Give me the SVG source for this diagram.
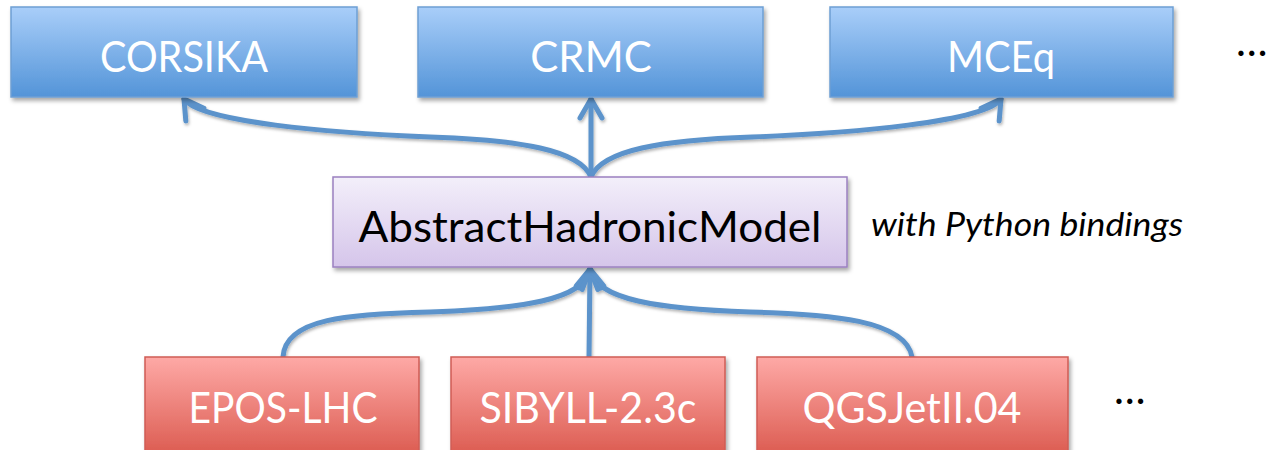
<svg xmlns="http://www.w3.org/2000/svg" width="1268" height="450" viewBox="0 0 1268 450">
  <defs>
    <linearGradient id="gBlue" x1="0" y1="0" x2="0" y2="1">
      <stop offset="0" stop-color="#a9cef9"/>
      <stop offset="1" stop-color="#5394d8"/>
    </linearGradient>
    <linearGradient id="gPurple" x1="0" y1="0" x2="0" y2="1">
      <stop offset="0" stop-color="#f3effa"/>
      <stop offset="1" stop-color="#d5c5ea"/>
    </linearGradient>
    <linearGradient id="gRed" x1="0" y1="0" x2="0" y2="1">
      <stop offset="0" stop-color="#fea9a6"/>
      <stop offset="1" stop-color="#db5a4f"/>
    </linearGradient>
    <filter id="shadow" x="-10%" y="-10%" width="120%" height="130%">
      <feDropShadow dx="2" dy="3" stdDeviation="2" flood-color="#000" flood-opacity="0.35"/>
    </filter>
    <filter id="lshadow" x="-10%" y="-10%" width="120%" height="130%">
      <feDropShadow dx="1" dy="2" stdDeviation="1.5" flood-color="#000" flood-opacity="0.3"/>
    </filter>
    <marker id="arrow" markerUnits="userSpaceOnUse" markerWidth="30" markerHeight="30" viewBox="-25 -15 30 30" refX="0" refY="0" orient="auto" overflow="visible">
      <path d="M-19,-11 L0,0 L-19,11" fill="none" stroke="#5b93cb" stroke-width="5" stroke-linecap="round" stroke-linejoin="round"/>
    </marker>
    <style>
      .blue { fill: url(#gBlue); stroke: #6e9fd4; stroke-width: 1.5; }
      .purple { fill: url(#gPurple); stroke: #9b80c0; stroke-width: 1.5; }
      .red { fill: url(#gRed); stroke: #cf5c55; stroke-width: 1.5; }
      .lbl { font-family: Lato, "Open Sans", "Liberation Sans", sans-serif; font-size: 42px; text-anchor: middle; }
      .white { fill: #ffffff; }
      .black { fill: #000000; }
      .conn { fill: none; stroke: #5b93cb; stroke-width: 5; stroke-linecap: round; marker-end: url(#arrow); }
      .note { font-family: Lato, "Open Sans", "Liberation Sans", sans-serif; font-size: 32px; font-style: italic; fill: #000; }
      .dots { font-family: Lato, "Open Sans", "Liberation Sans", sans-serif; font-size: 42px; fill: #000; }
    </style>
  </defs>
  <rect width="1268" height="450" fill="#ffffff"/>

  <g id="connectors" filter="url(#lshadow)">
    <path class="conn" d="M591,177 C580,150 520,140 430,137 C330,133 200,122 184,99"/>
    <path class="conn" d="M591,177 L591,99"/>
    <path class="conn" d="M591,177 C602,150 662,140 752,137 C852,133 985,122 1001,99"/>
    <path class="conn" d="M283,357 C285,318 350,314 430,312 C520,309 585,300 590,269"/>
    <path class="conn" d="M589,357 L590,269"/>
    <path class="conn" d="M912,357 C906,320 830,314 750,312 C660,309 595,300 590,269"/>
  </g>

  <g id="corsika">
    <rect class="blue" x="11" y="7" width="346" height="90" filter="url(#shadow)"/>
    <text class="lbl white" x="184" y="72" textLength="168" lengthAdjust="spacingAndGlyphs">CORSIKA</text>
  </g>
  <g id="crmc">
    <rect class="blue" x="418" y="7" width="345" height="90" filter="url(#shadow)"/>
    <text class="lbl white" x="591" y="72">CRMC</text>
  </g>
  <g id="mceq">
    <rect class="blue" x="830" y="7" width="343" height="90" filter="url(#shadow)"/>
    <text class="lbl white" x="1001" y="72" textLength="108" lengthAdjust="spacingAndGlyphs">MCEq</text>
  </g>
  <text id="dots-top" class="dots" x="1236" y="56">…</text>

  <g id="abstract">
    <rect class="purple" x="333" y="177" width="514" height="90" filter="url(#shadow)"/>
    <text class="lbl black" x="590" y="242" textLength="463" lengthAdjust="spacingAndGlyphs">AbstractHadronicModel</text>
  </g>
  <text id="note" class="note" x="871" y="236" textLength="312" lengthAdjust="spacingAndGlyphs">with Python bindings</text>

  <g id="epos">
    <rect class="red" x="145" y="357" width="274" height="100" filter="url(#shadow)"/>
    <text class="lbl white" x="283" y="423" textLength="189" lengthAdjust="spacingAndGlyphs">EPOS-LHC</text>
  </g>
  <g id="sibyll">
    <rect class="red" x="451" y="357" width="274" height="100" filter="url(#shadow)"/>
    <text class="lbl white" x="588" y="423" textLength="217" lengthAdjust="spacingAndGlyphs">SIBYLL-2.3c</text>
  </g>
  <g id="qgsjet">
    <rect class="red" x="757" y="357" width="311" height="100" filter="url(#shadow)"/>
    <text class="lbl white" x="912" y="423" textLength="219" lengthAdjust="spacingAndGlyphs">QGSJetII.04</text>
  </g>
  <text id="dots-bottom" class="dots" x="1114" y="404">…</text>
</svg>
